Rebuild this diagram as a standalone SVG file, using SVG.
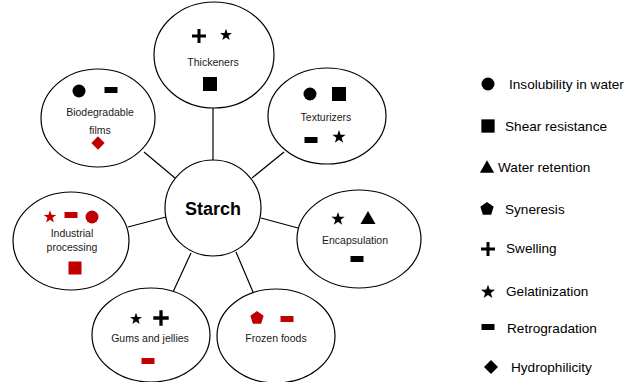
<svg xmlns="http://www.w3.org/2000/svg" xmlns:xlink="http://www.w3.org/1999/xlink" width="630" height="382" viewBox="0 0 630 382">
<style>
.node{fill:#fff;stroke:#000;stroke-width:1.2}
.conn line{stroke:#000;stroke-width:1.2}
.lbl{font-family:"Liberation Sans",Arial,sans-serif;font-size:10.5px;fill:#1a1a1a;text-anchor:middle}
.leg{font-family:"Liberation Sans",Arial,sans-serif;font-size:13.6px;fill:#000}
.title{font-family:"Liberation Sans",Arial,sans-serif;font-size:18px;font-weight:bold;fill:#000;text-anchor:middle}
.k{fill:#000}
.r{fill:#c00000}
</style>
<defs>
<path id="star" d="M0,-7 L1.65,-2.27 6.66,-2.16 2.66,0.87 4.11,5.66 0,2.8 -4.11,5.66 -2.66,0.87 -6.66,-2.16 -1.65,-2.27Z"/>
<path id="plus" d="M-7,-1.5h14v3h-14z M-1.5,-7h3v14h-3z"/>
<path id="pent" d="M0,-7 L6.66,-2.16 4.11,5.66 -4.11,5.66 -6.66,-2.16Z"/>
<path id="tri" d="M0,-7 L7.5,6 -7.5,6Z"/>
<path id="dia" d="M0,-7 L7,0 0,7 -7,0Z"/>
<rect id="dash" x="-6.5" y="-3" width="13" height="6"/>
<rect id="sq" x="-7" y="-7" width="14" height="14"/>
<circle id="dot" r="6.5"/>
</defs>

<g id="connectors" class="conn">
<line x1="213" y1="108" x2="213" y2="160"/>
<line x1="144" y1="152" x2="175" y2="178"/>
<line x1="284" y1="152" x2="252" y2="178"/>
<line x1="128" y1="227" x2="166" y2="217"/>
<line x1="261" y1="218" x2="298" y2="228"/>
<line x1="191" y1="253" x2="173" y2="292"/>
<line x1="236" y1="252" x2="253" y2="292"/>
</g>

<g id="starch">
<circle class="node" cx="213" cy="208" r="48"/>
<text class="title" x="213" y="215">Starch</text>
</g>

<g id="thickeners">
<ellipse class="node" cx="214" cy="55" rx="60" ry="53"/>
<use href="#plus" class="k" transform="translate(199,36)"/>
<use href="#star" class="k" transform="translate(226,35) scale(0.9)"/>
<text class="lbl" x="213" y="66">Thickeners</text>
<use href="#sq" class="k" transform="translate(210,84)"/>
</g>

<g id="biodegradable">
<ellipse class="node" cx="98" cy="118" rx="57" ry="49"/>
<use href="#dot" class="k" transform="translate(79,91)"/>
<use href="#dash" class="k" transform="translate(111,90)"/>
<text class="lbl" x="100" y="116">Biodegradable</text>
<text class="lbl" x="100" y="134">films</text>
<use href="#dia" class="r" transform="translate(98,143) scale(0.95)"/>
</g>

<g id="texturizers">
<ellipse class="node" cx="327" cy="116" rx="59" ry="48"/>
<use href="#dot" class="k" transform="translate(310,94)"/>
<use href="#sq" class="k" transform="translate(339,94)"/>
<text class="lbl" x="326" y="121">Texturizers</text>
<use href="#dash" class="k" transform="translate(311,140)"/>
<use href="#star" class="k" transform="translate(339,137)"/>
</g>

<g id="industrial">
<ellipse class="node" cx="71" cy="241" rx="58" ry="49"/>
<use href="#star" class="r" transform="translate(50,217) scale(0.95)"/>
<use href="#dash" class="r" transform="translate(71,215)"/>
<use href="#dot" class="r" transform="translate(92,217)"/>
<text class="lbl" x="72" y="237">Industrial</text>
<text class="lbl" x="72" y="251">processing</text>
<use href="#sq" class="r" transform="translate(75,268) scale(0.93)"/>
</g>

<g id="encapsulation">
<ellipse class="node" cx="359" cy="239" rx="62" ry="49"/>
<use href="#star" class="k" transform="translate(338,219)"/>
<use href="#tri" class="k" transform="translate(368,218)"/>
<text class="lbl" x="355" y="244">Encapsulation</text>
<use href="#dash" class="k" transform="translate(357,259)"/>
</g>

<g id="gums">
<ellipse class="node" cx="151" cy="335" rx="59" ry="47"/>
<use href="#star" class="k" transform="translate(136,319) scale(0.9)"/>
<use href="#plus" class="k" transform="translate(161,318) scale(1.1)"/>
<text class="lbl" x="150" y="342">Gums and jellies</text>
<use href="#dash" class="r" transform="translate(148,361)"/>
</g>

<g id="frozen">
<ellipse class="node" cx="276" cy="336" rx="59" ry="47"/>
<use href="#pent" class="r" transform="translate(257,318)"/>
<use href="#dash" class="r" transform="translate(287,319)"/>
<text class="lbl" x="276" y="342">Frozen foods</text>
</g>

<g id="legend">
<use href="#dot" class="k" transform="translate(488,84)"/>
<text class="leg" x="509" y="89">Insolubility in water</text>
<use href="#sq" class="k" transform="translate(488,126) scale(0.95)"/>
<text class="leg" x="505" y="131">Shear resistance</text>
<use href="#tri" class="k" transform="translate(487,167) scale(0.95)"/>
<text class="leg" x="498" y="172">Water retention</text>
<use href="#pent" class="k" transform="translate(487,209)"/>
<text class="leg" x="505" y="214">Syneresis</text>
<use href="#plus" class="k" transform="translate(488,249)"/>
<text class="leg" x="506" y="253">Swelling</text>
<use href="#star" class="k" transform="translate(488,292) scale(1.05)"/>
<text class="leg" x="506" y="296">Gelatinization</text>
<use href="#dash" class="k" transform="translate(488,327)"/>
<text class="leg" x="507" y="333">Retrogradation</text>
<use href="#dia" class="k" transform="translate(491,367)"/>
<text class="leg" x="511" y="372">Hydrophilicity</text>
</g>
</svg>
